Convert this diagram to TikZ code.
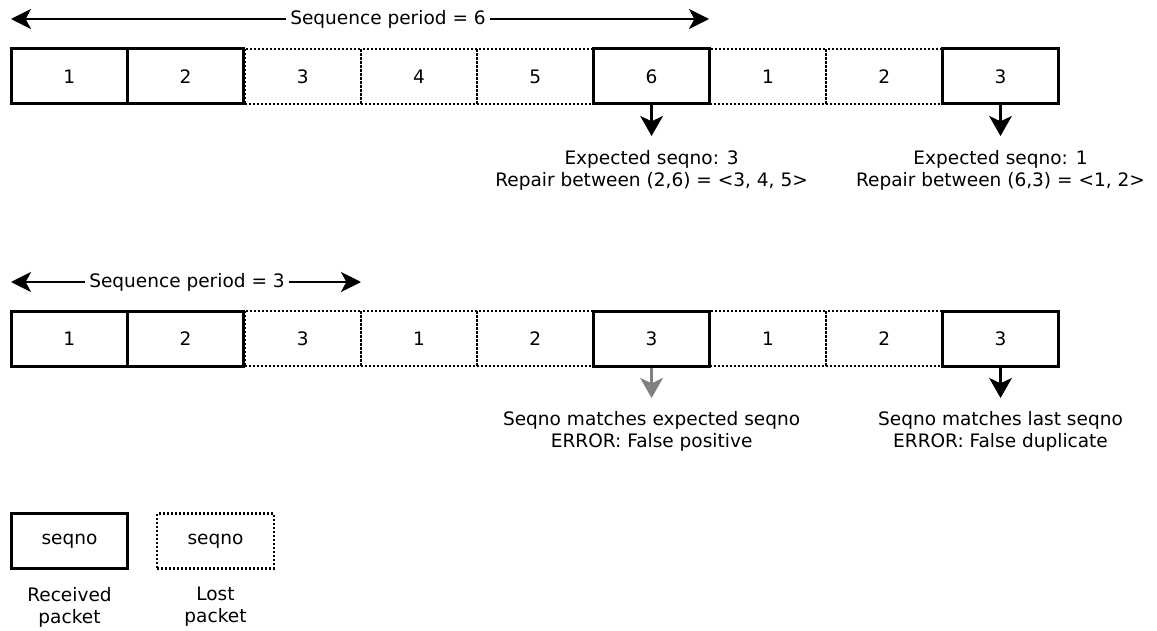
\documentclass[tikz,border=0pt]{standalone}
\usepackage{fontspec}
\setmainfont{DejaVu Sans}
\usetikzlibrary{arrows.meta}
\definecolor{arrowgray}{HTML}{808080}
\tikzset{
  pkt/.style={rectangle, inner sep=0pt, minimum width=87.25pt, minimum height=41.25pt},
  recv/.style={pkt, draw=black, line width=2.25pt},
  lost/.style={pkt, draw=black, line width=1.6pt, dash pattern=on 1.5pt off 1.5pt},
  spanarrow/.style={line width=1.7pt, -{Stealth[length=15pt, width=15pt, inset=4pt]}},
  downarrow/.style={line width=1.9pt, -{Stealth[length=15pt, width=17pt, inset=4pt]}},
  note/.style={align=center, inner sep=0pt},
}
\begin{document}
\begin{tikzpicture}[x=0.75pt, y=-0.75pt, font=\fontsize{13.9}{16.5}\selectfont]
\useasboundingbox (0,0) rectangle (1157,631);

% ---- first row: sequence period 6 ----
\node[lost] (a3) at (302.7,76.5) {3};
\node[lost] (a4) at (419.0,76.5) {4};
\node[lost] (a5) at (535.3,76.5) {5};
\node[lost] (a7) at (767.9,76.5) {1};
\node[lost] (a8) at (884.2,76.5) {2};
\node[recv] (a1) at (69.2,76.5) {1};
\node[recv] (a2) at (185.5,76.5) {2};
\node[recv] (a6) at (651.6,76.5) {6};
\node[recv] (a9) at (1000.5,76.5) {3};

\node (p6) at (388,19) {Sequence period = 6};
\coordinate (p6l) at (11,19);
\coordinate (p6r) at (709,19);
\draw[spanarrow] (p6.west) -- (p6l);
\draw[spanarrow] (p6.east) -- (p6r);

\coordinate (a6t) at (651.6,136);
\coordinate (a9t) at (1000.5,136);
\draw[downarrow] (a6.south) -- (a6t);
\draw[downarrow] (a9.south) -- (a9t);
\node[note] (n1) at (651.6,170) {Expected seqno: 3\\Repair between (2,6) = <3, 4, 5>};
\node[note] (n2) at (1000.5,170) {Expected seqno: 1\\Repair between (6,3) = <1, 2>};

% ---- second row: sequence period 3 ----
\node[lost] (b3) at (302.7,338.5) {3};
\node[lost] (b4) at (419.0,338.5) {1};
\node[lost] (b5) at (535.3,338.5) {2};
\node[lost] (b7) at (767.9,338.5) {1};
\node[lost] (b8) at (884.2,338.5) {2};
\node[recv] (b1) at (69.2,338.5) {1};
\node[recv] (b2) at (185.5,338.5) {2};
\node[recv] (b6) at (651.6,338.5) {3};
\node[recv] (b9) at (1000.5,338.5) {3};

\node (p3) at (187,282) {Sequence period = 3};
\coordinate (p3l) at (11,282);
\coordinate (p3r) at (361,282);
\draw[spanarrow] (p3.west) -- (p3l);
\draw[spanarrow] (p3.east) -- (p3r);

\coordinate (b6t) at (651.6,398);
\coordinate (b9t) at (1000.5,398);
\draw[downarrow, draw=arrowgray] (b6.south) -- (b6t);
\draw[downarrow] (b9.south) -- (b9t);
\node[note] (n3) at (651.6,431) {Seqno matches expected seqno\\ERROR: False positive};
\node[note] (n4) at (1000.5,431) {Seqno matches last seqno\\ERROR: False duplicate};

% ---- legend ----
\node[recv] (lr) at (69.5,541) {seqno};
\node[lost] (ll) at (215.5,541) {seqno};
\node[note] (lrt) at (69.5,607) {Received\\packet};
\node[note] (llt) at (215.5,607) {Lost\\packet};
\end{tikzpicture}
\end{document}
